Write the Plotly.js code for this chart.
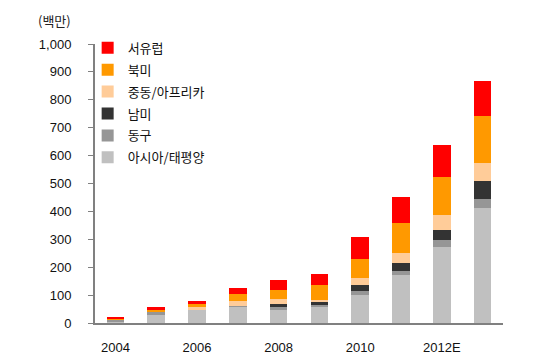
<!DOCTYPE html>
<html>
<head>
<meta charset="utf-8">
<script src="https://cdn.plot.ly/plotly-3.0.1.min.js"></script>
<style>html,body{margin:0;padding:0;background:#fff;}#chart{width:550px;height:360px;}</style>
</head>
<body>
<div id="chart"></div>
<script>
var years = ['2004','2005','2006','2007','2008','2009','2010','2011','2012E','2013E'];
var labelYears = ['2004','2006','2008','2010','2012E'];
var seriesNames = ['아시아/태평양','동구','남미','중동/아프리카','북미','서유럽'];
var asiaPacific = [4, 30, 45, 58, 48, 57, 101, 172, 272, 411];
var easternEurope = [8, 8, 1, 3, 10, 6, 15, 14, 25, 35];
var southAmerica = [0, 0, 0, 1, 11, 11, 20, 29, 36, 62];
var middleEastAfrica = [0, 0, 13, 17, 17, 8, 24, 36, 54, 67];
var northAmerica = [2, 8, 9, 24, 32, 54, 69, 107, 136, 167];
var westernEurope = [7, 11, 11, 24, 36, 40, 79, 93, 115, 125];
var seriesValues = [asiaPacific, easternEurope, southAmerica, middleEastAfrica, northAmerica, westernEurope];
var seriesColors = ['#C0C0C0','#969696','#333333','#FFCC99','#FF9900','#FF0000'];
var yTicks = [0,100,200,300,400,500,600,700,800,900,1000];

var traces = seriesValues.map(function(v, i){
  return {
    type: 'bar', x: years, y: v, name: seriesNames[i],
    legendgroup: 'g' + i, legendrank: seriesValues.length - i,
    marker: {color: seriesColors[i], line: {width: 0}},
    width: 0.43, hoverinfo: 'skip'
  };
});

var boundaryTicks = [];
for (var k = 0; k <= years.length; k += 2) boundaryTicks.push(k - 0.5);

var layout = {
  width: 550, height: 360,
  margin: {l: 95, r: 47, t: 44, b: 37},
  paper_bgcolor: '#fff', plot_bgcolor: '#fff',
  barmode: 'stack', bargap: 0.57,
  showlegend: true,
  title: {text: '(백만)', x: 38/550, xanchor: 'left', y: 1 - 21/360, yanchor: 'middle',
          font: {family: 'Noto Sans CJK KR', size: 13, color: '#222'}},
  font: {family: 'Liberation Sans, Arial, sans-serif', size: 13, color: '#111'},
  legend: {x: -0.018, xanchor: 'left', y: 1.04, yanchor: 'top',
           traceorder: 'grouped', tracegroupgap: 2,
           bgcolor: 'rgba(0,0,0,0)',
           font: {family: 'Noto Sans CJK KR', size: 13, color: '#111'}},
  xaxis: {type: 'category', range: [-0.5, 9.5], tickmode: 'array', tickvals: labelYears,
          ticktext: labelYears, ticks: 'outside', ticklen: 6, tickcolor: 'rgba(0,0,0,0)',
          ticklabelstandoff: 5,
          showline: true, linecolor: '#808080', linewidth: 2, showgrid: false, zeroline: false,
          tickfont: {size: 13, color: '#111'}, fixedrange: true},
  xaxis2: {overlaying: 'x', anchor: 'y', side: 'bottom', range: [-0.5, 9.5], type: 'linear',
           tickmode: 'array', tickvals: boundaryTicks, showticklabels: false,
           ticks: 'outside', ticklen: 5, tickwidth: 1.5, tickcolor: '#808080',
           showline: false, showgrid: false, zeroline: false},
  yaxis: {range: [0, 1000], tickmode: 'array', tickvals: yTicks, tickformat: ',d',
          ticks: 'outside', ticklen: 5, tickcolor: '#808080', tickwidth: 1,
          ticklabelstandoff: 14,
          showline: true, linecolor: '#808080', linewidth: 2, showgrid: false, zeroline: false,
          tickfont: {size: 13, color: '#111'}, fixedrange: true}
};

Plotly.newPlot('chart', traces, layout, {staticPlot: true, displayModeBar: false});
</script>
</body>
</html>
